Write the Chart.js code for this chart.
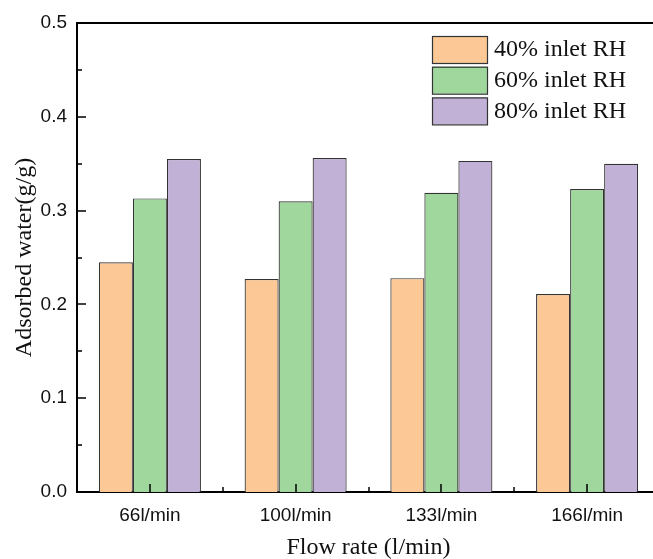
<!DOCTYPE html>
<html>
<head>
<meta charset="utf-8">
<script src="https://cdn.jsdelivr.net/npm/chart.js@4/dist/chart.umd.min.js"></script>
<style>
  html, body { margin: 0; padding: 0; background: #fff; overflow: hidden; }
  canvas { display: block; }
</style>
</head>
<body>
<canvas id="chart" width="662" height="559"></canvas>
<script>
const flowRates = ['66l/min', '100l/min', '133l/min', '166l/min'];
const rh40 = [0.245, 0.227, 0.228, 0.211];
const rh60 = [0.313, 0.310, 0.319, 0.323];
const rh80 = [0.355, 0.356, 0.353, 0.350];
const seriesNames = ['40% inlet RH', '60% inlet RH', '80% inlet RH'];
const fills = ['#fcc896', '#9fd79d', '#c1b1d6'];

const serif = 'Liberation Serif, Times New Roman, serif';
const sans = 'Liberation Sans, Arial, sans-serif';

// inward ticks, top frame line and the boxed legend
const frameAndTicks = {
    id: 'frameAndTicks',
    afterDraw(chart) {
        const ctx = chart.ctx;
        const area = chart.chartArea;
        const x = chart.scales.x;
        const y = chart.scales.y;
        ctx.save();
        ctx.strokeStyle = '#000';
        ctx.lineWidth = 2;
        ctx.beginPath();
        ctx.moveTo(area.left - 1, area.top);
        ctx.lineTo(area.right, area.top);
        ctx.lineTo(area.right, area.bottom);
        ctx.stroke();

        ctx.lineWidth = 1.5;
        ctx.beginPath();
        for (let v = 0; v <= 0.5001; v += 0.05) {
            const py = Math.round(y.getPixelForValue(v));
            const major = Math.abs(v * 10 - Math.round(v * 10)) < 1e-6;
            ctx.moveTo(area.left, py);
            ctx.lineTo(area.left + (major ? 9 : 5), py);
        }
        for (let i = 0; i < flowRates.length; i++) {
            const px = Math.round(x.getPixelForValue(i));
            ctx.moveTo(px, area.bottom);
            ctx.lineTo(px, area.bottom - 8);
            if (i < flowRates.length - 1) {
                const mid = Math.round((x.getPixelForValue(i) + x.getPixelForValue(i + 1)) / 2);
                ctx.moveTo(mid, area.bottom);
                ctx.lineTo(mid, area.bottom - 5);
            }
        }
        ctx.stroke();

        // legend
        ctx.font = '24px ' + serif;
        ctx.textBaseline = 'middle';
        ctx.textAlign = 'left';
        chart.data.datasets.forEach((ds, i) => {
            const by = 36 + i * 30.7;
            ctx.fillStyle = ds.backgroundColor;
            ctx.fillRect(432, by, 55, 27);
            ctx.strokeStyle = '#333';
            ctx.lineWidth = 1.2;
            ctx.strokeRect(432.5, by + 0.5, 55, 27);
            ctx.fillStyle = '#111';
            ctx.fillText(ds.label, 494, by + 14);
        });
        ctx.restore();
    }
};

const datasets = [rh40, rh60, rh80].map((vals, i) => ({
    label: seriesNames[i],
    data: vals,
    backgroundColor: fills[i],
    borderColor: '#333',
    borderWidth: 1.2,
    borderSkipped: 'bottom'
}));

new Chart(document.getElementById('chart'), {
    type: 'bar',
    data: { labels: flowRates, datasets: datasets },
    options: {
        responsive: false,
        animation: false,
        layout: { padding: { top: 23, right: 2, left: 0, bottom: 0 } },
        categoryPercentage: 0.7,
        barPercentage: 1.0,
        plugins: {
            legend: { display: false },
            tooltip: { enabled: false }
        },
        scales: {
            x: {
                grid: { display: false, drawTicks: false },
                border: { display: true, color: '#000', width: 2 },
                ticks: {
                    padding: 12,
                    color: '#111',
                    font: { family: sans, size: 19 }
                },
                title: {
                    display: true,
                    text: 'Flow rate (l/min)',
                    color: '#111',
                    font: { family: serif, size: 24 },
                    padding: { top: 6, bottom: -3 }
                },
                afterFit(scale) { scale.height = 67; }
            },
            y: {
                min: 0,
                max: 0.5,
                grid: { display: false, drawTicks: false },
                border: { display: true, color: '#000', width: 2 },
                ticks: {
                    stepSize: 0.1,
                    padding: 10,
                    color: '#111',
                    font: { family: sans, size: 19 },
                    callback: v => v.toFixed(1)
                },
                title: {
                    display: true,
                    text: 'Adsorbed water(g/g)',
                    color: '#111',
                    font: { family: serif, size: 24 },
                    padding: { top: 10, bottom: 0 }
                },
                afterFit(scale) { scale.width = 77; }
            }
        }
    },
    plugins: [frameAndTicks]
});
</script>
</body>
</html>
